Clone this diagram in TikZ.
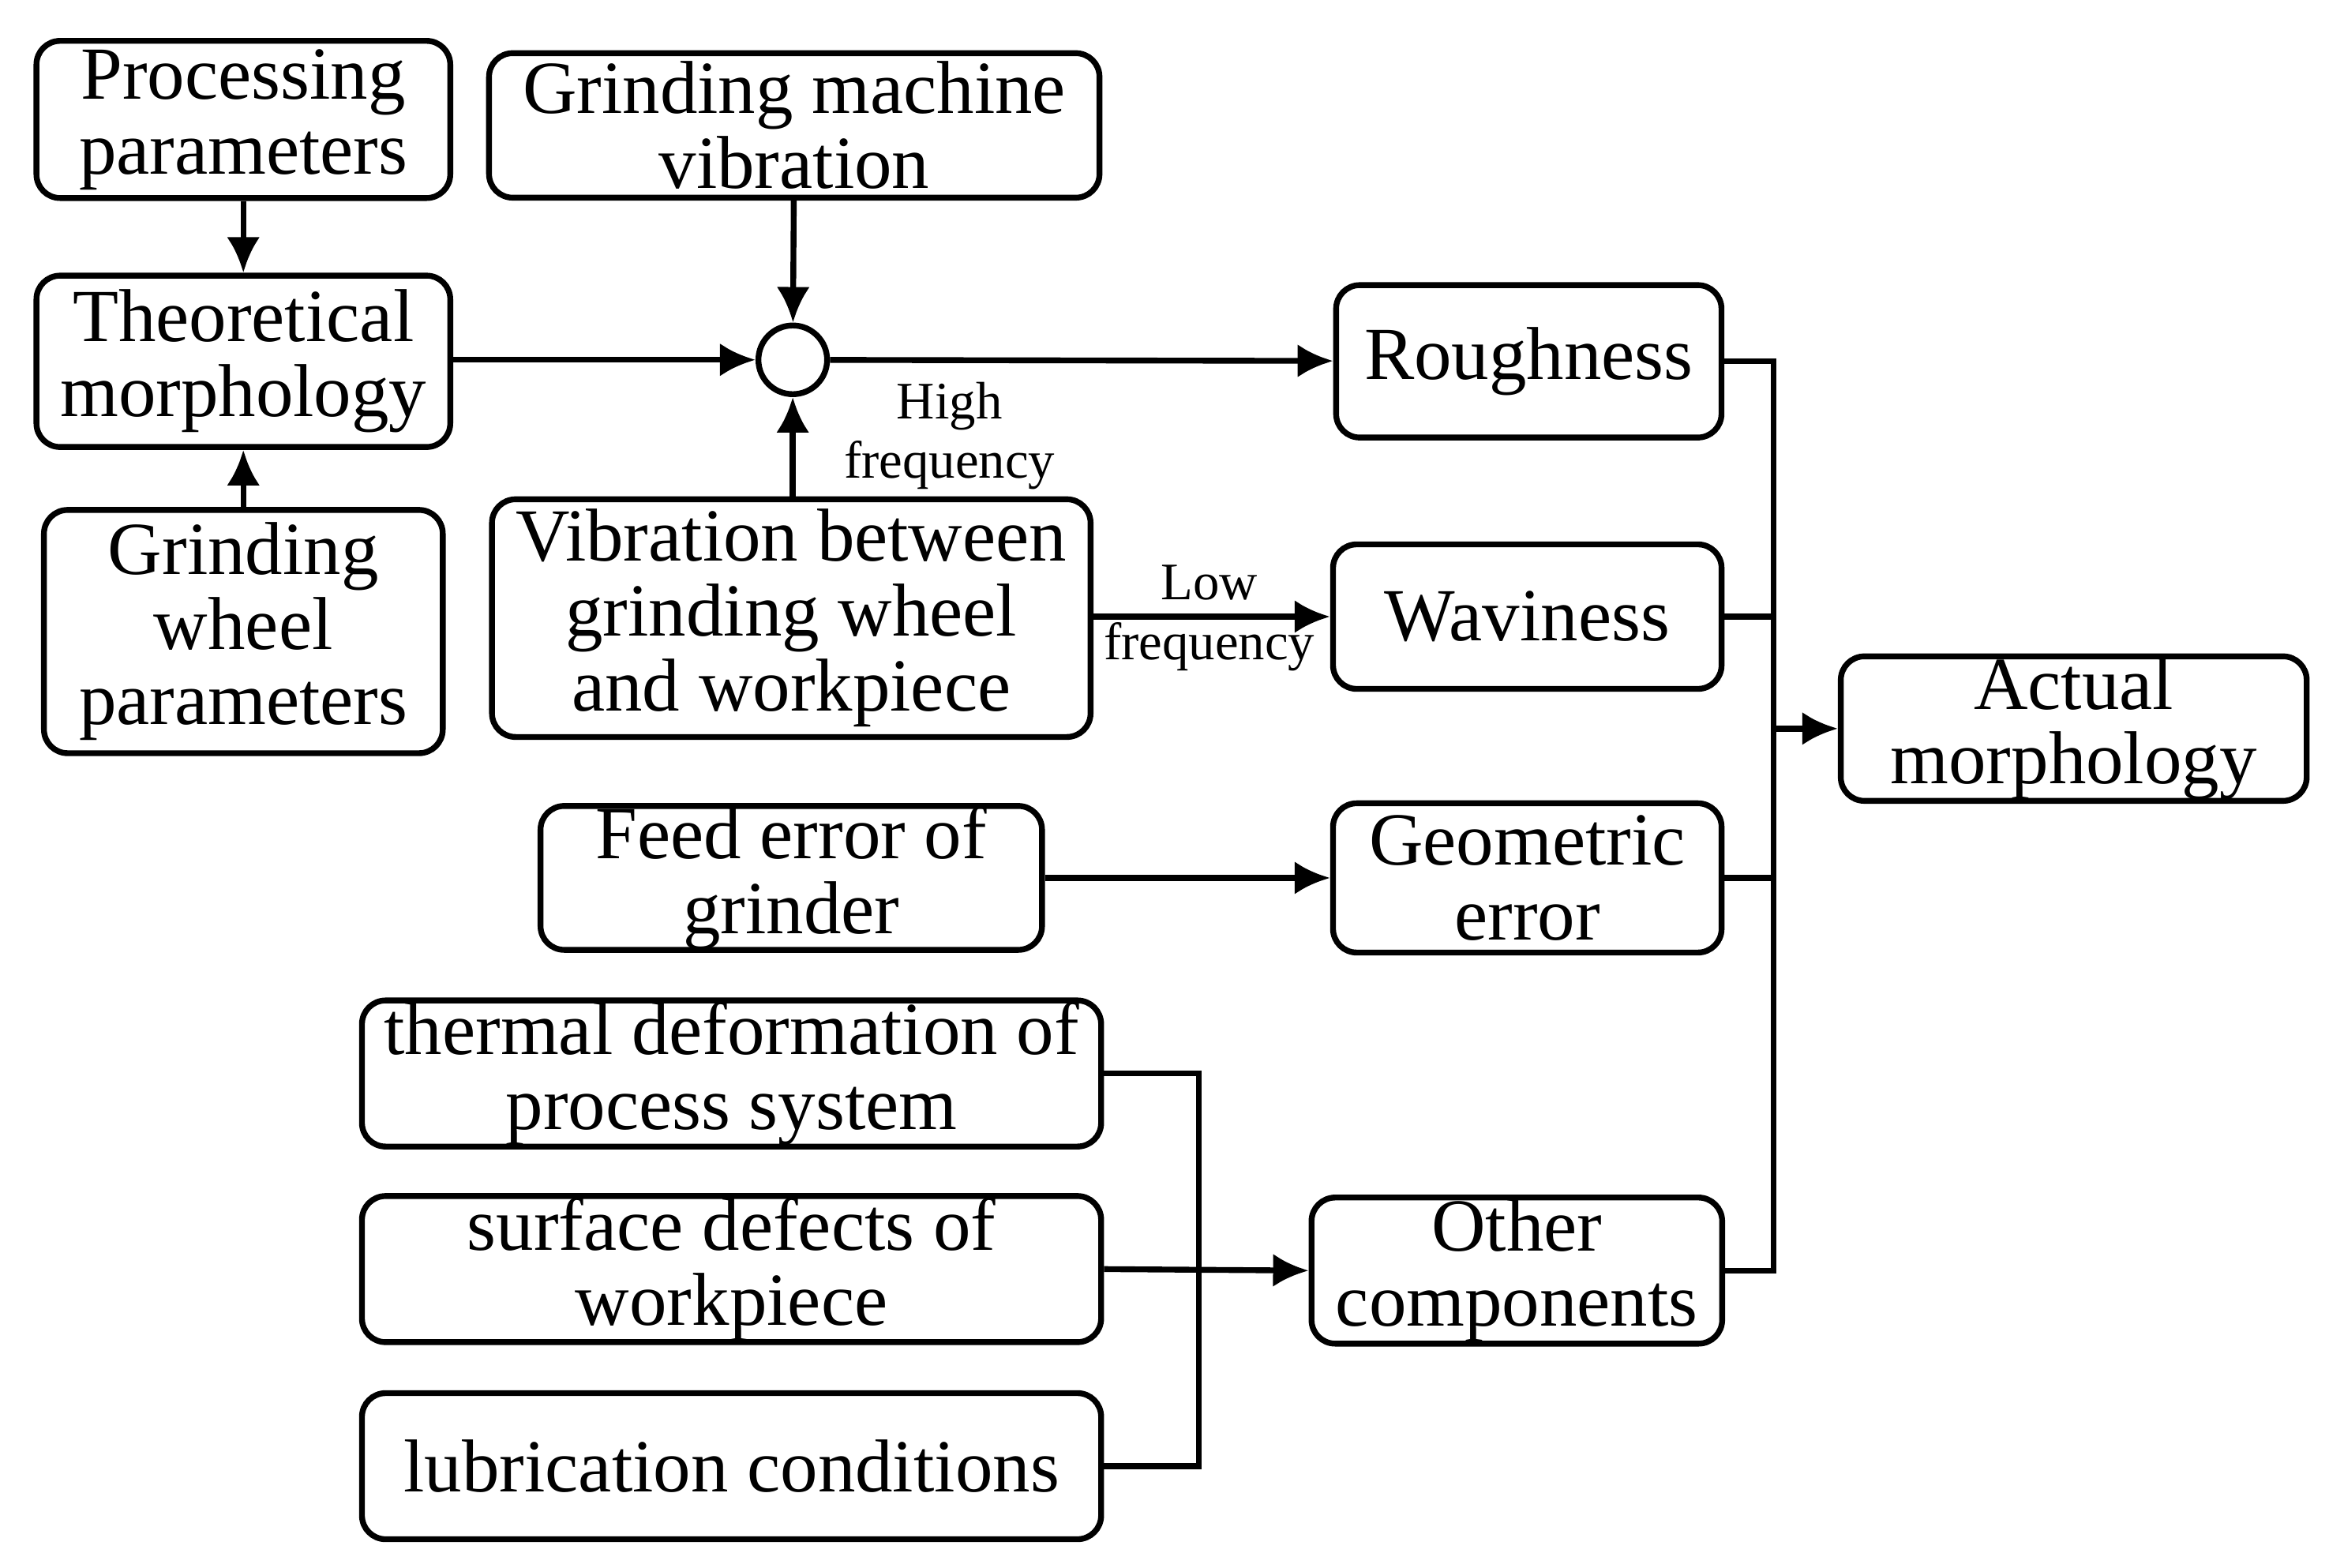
\documentclass[tikz,border=0pt]{standalone}
\usepackage{fontspec}
\setmainfont{Liberation Serif}
\usetikzlibrary{arrows.meta}
\tikzset{
  box/.style={draw,line width=2.1pt,rounded corners=0.3cm,align=center,inner sep=0pt,font=\fontsize{27}{27}\selectfont},
  lbl/.style={align=center,inner sep=0pt,font=\fontsize{19}{21.5}\selectfont},
  arr/.style={line width=2.1pt,-{Latex[length=0.45cm,width=0.42cm]}},
  ln/.style={line width=2.1pt}
}
\begin{document}
\begin{tikzpicture}[x=0.01891cm,y=-0.01891cm]
\useasboundingbox (0,0) rectangle (1560,1050);
% left column
\node[box,minimum width=5.24cm,minimum height=1.99cm] (proc) at (163,80) {Processing\\parameters};
\node[box,minimum width=5.24cm,minimum height=2.17cm] (theo) at (163,242) {Theoretical\\morphology};
\node[box,minimum width=5.05cm,minimum height=3.08cm] (gwp) at (163,423) {Grinding\\wheel\\parameters};
% middle column
\node[box,minimum width=7.73cm,minimum height=1.83cm] (gmv) at (532,84) {Grinding machine\\vibration};
\node[draw,line width=2.1pt,circle,minimum size=0.87cm,inner sep=0pt] (sum) at (531,241) {};
\node[box,minimum width=7.58cm,minimum height=3.01cm] (vib) at (530,414) {Vibration between\\grinding wheel\\and workpiece};
\node[box,minimum width=6.35cm,minimum height=1.82cm] (feed) at (530,588) {Feed error of\\grinder};
\node[box,minimum width=9.36cm,minimum height=1.85cm] (therm) at (490,719) {thermal deformation of\\process system};
\node[box,minimum width=9.36cm,minimum height=1.85cm] (surf) at (490,850) {surface defects of\\workpiece};
\node[box,minimum width=9.36cm,minimum height=1.85cm] (lub) at (490,982) {lubrication conditions};
% right columns
\node[box,minimum width=4.88cm,minimum height=1.93cm] (rough) at (1024,242) {Roughness};
\node[box,minimum width=4.92cm,minimum height=1.83cm] (wav) at (1023,413) {Waviness};
\node[box,minimum width=4.92cm,minimum height=1.89cm] (geo) at (1023,588) {Geometric\\error};
\node[box,minimum width=5.20cm,minimum height=1.85cm] (other) at (1016,851) {Other\\components};
\node[box,minimum width=5.90cm,minimum height=1.83cm] (act) at (1389,488) {Actual\\morphology};
% labels
\node[lbl] (hf) at (636,292) {High\\frequency};
\node[lbl] (lf) at (810,414) {Low\\frequency};
% connectors
\draw[arr] (proc) -- (theo);
\draw[arr] (gwp) -- (theo);
\draw[arr] (theo.east|-sum) -- (sum);
\draw[arr] (gmv) -- (sum);
\draw[arr] (vib.north-|sum) -- (sum);
\draw[arr] (sum) -- (rough);
\draw[arr] (vib.east|-wav) -- (wav);
\draw[arr] (feed) -- (geo);
\coordinate (bus) at (1188,488);
\coordinate (mid) at (803,851);
\draw[ln] (rough.east) -| (bus) (wav.east) -| (bus) (geo.east) -| (bus) (other.east) -| (bus);
\draw[arr] (bus) -- (act.west|-bus);
\draw[ln] (therm.east|-0,719) -| (mid) (lub.east|-0,982) -| (mid);
\draw[arr] (surf.east) -- (other.west);
\end{tikzpicture}
\end{document}
